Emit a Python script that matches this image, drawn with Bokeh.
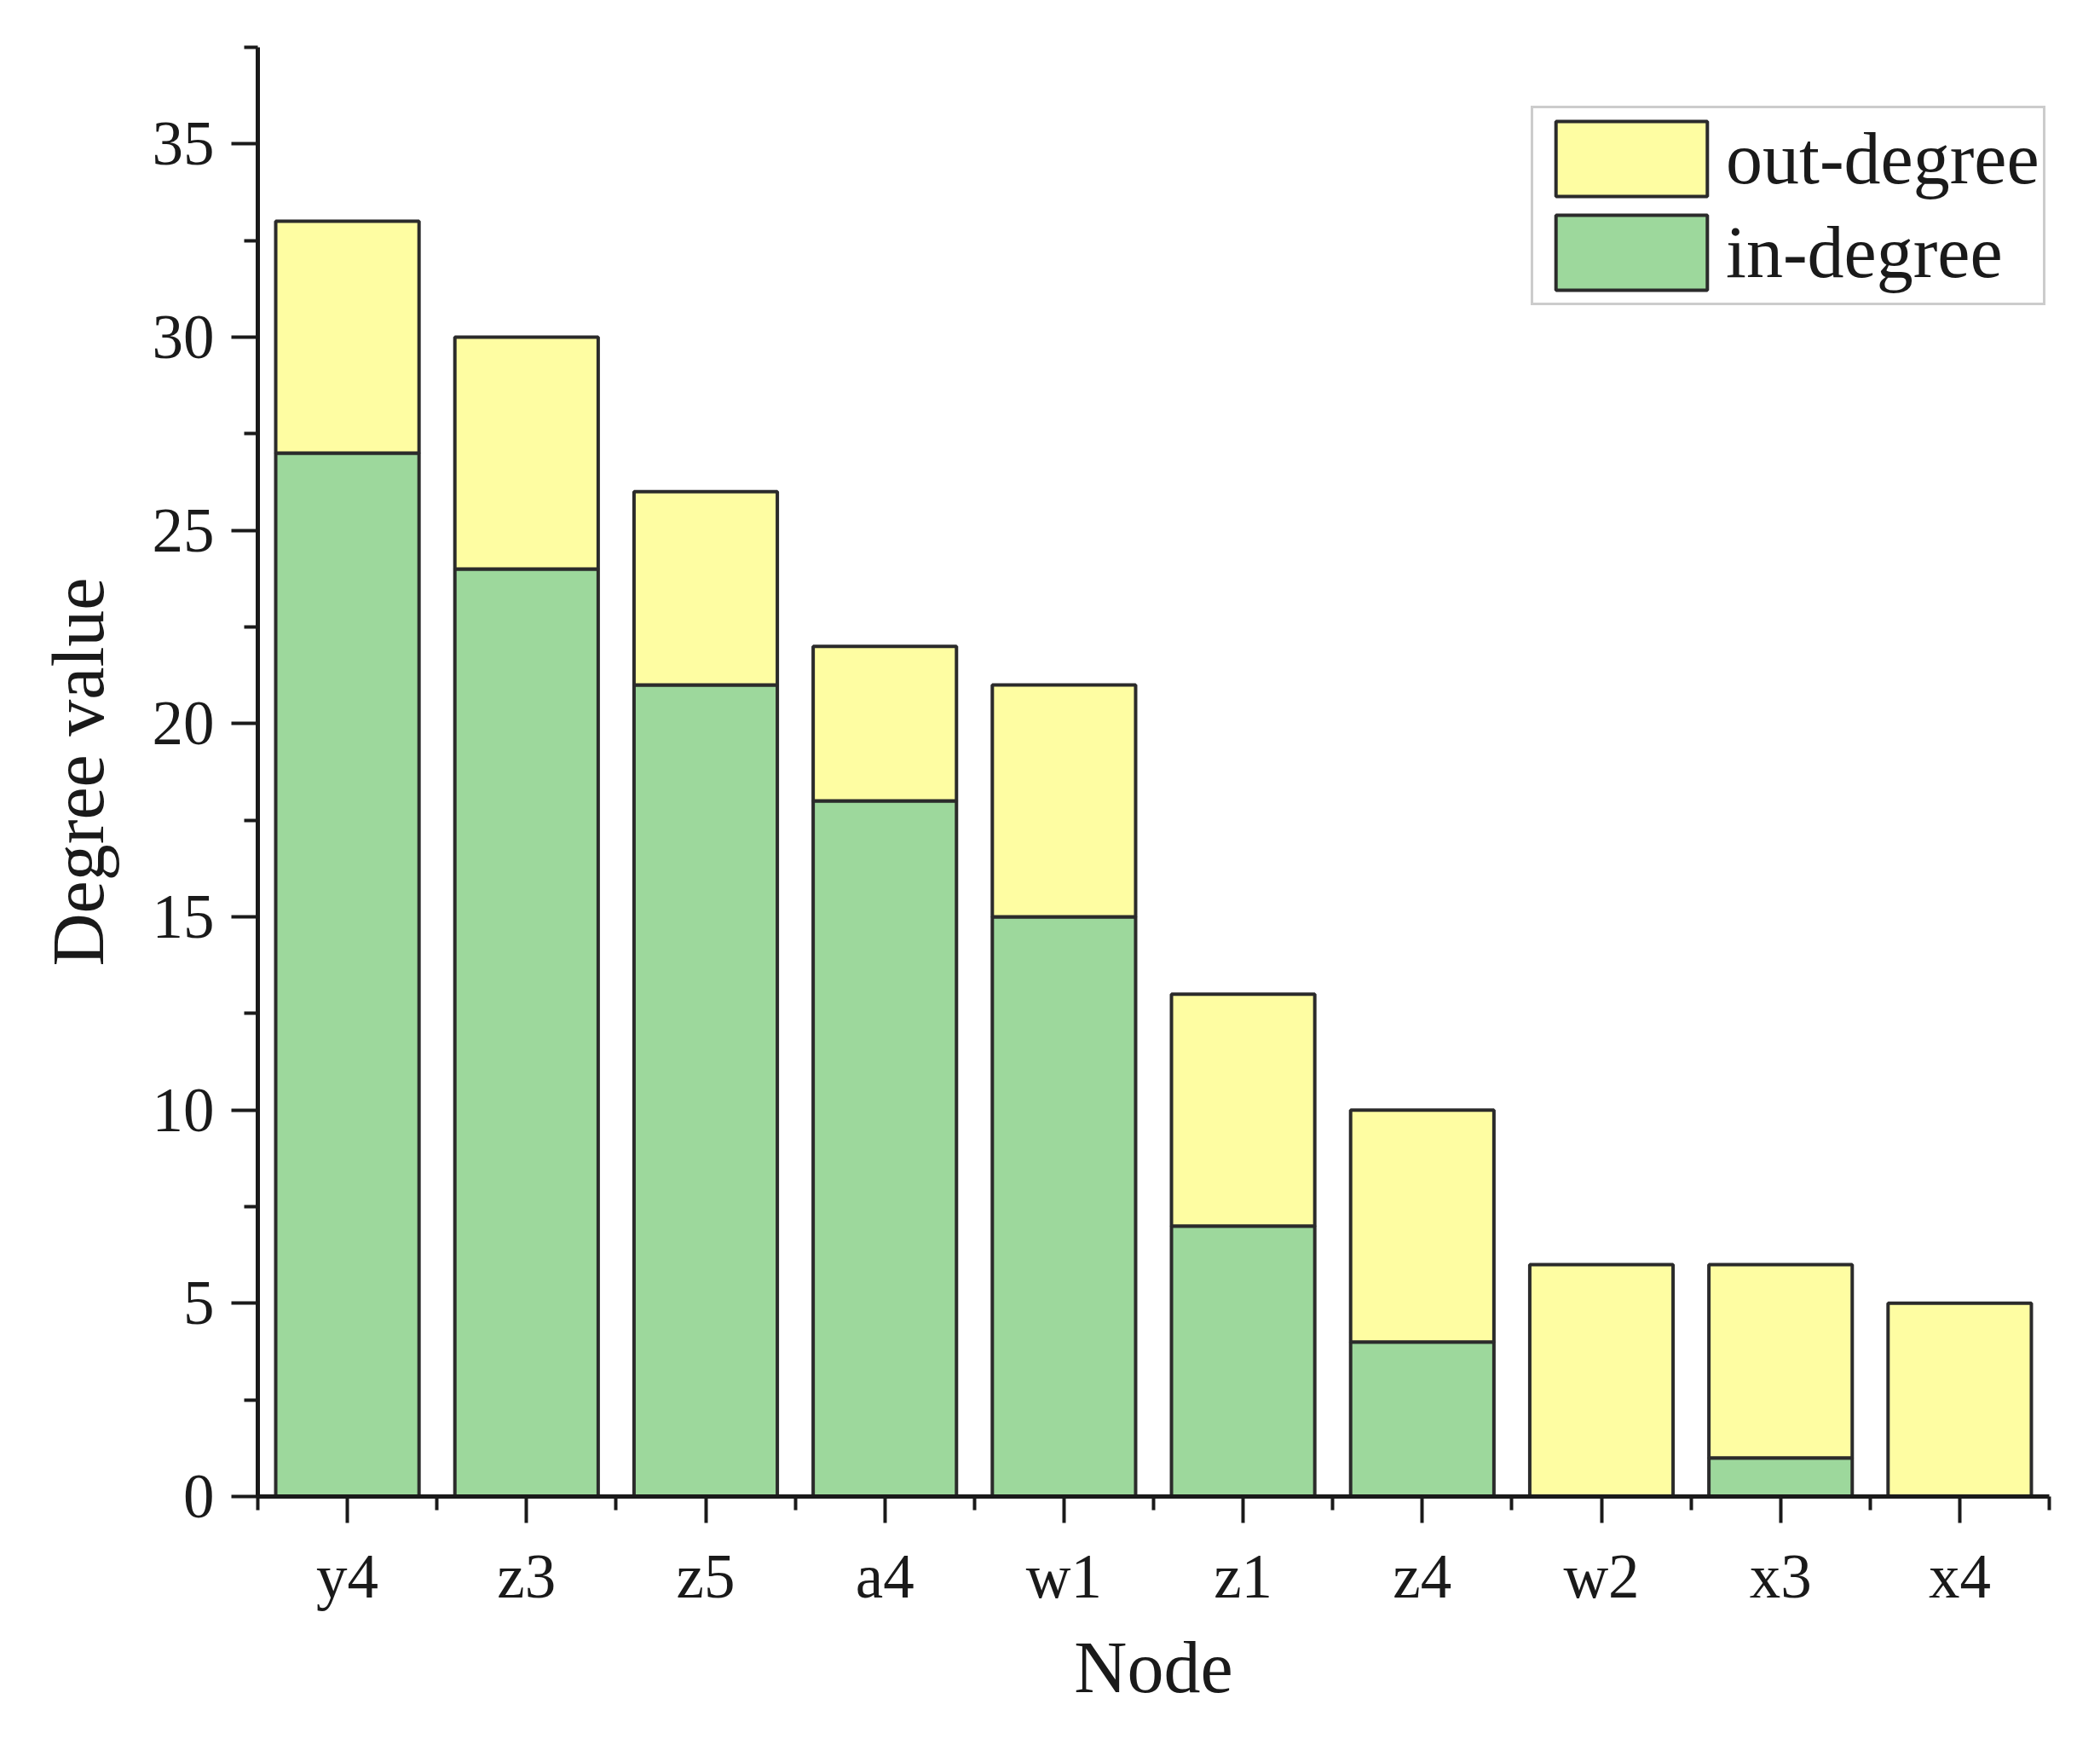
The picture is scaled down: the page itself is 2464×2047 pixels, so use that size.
from bokeh.plotting import figure
from bokeh.models import (ColumnDataSource, FixedTicker, Range1d, Legend, LegendItem)
from bokeh.embed import file_html
from bokeh.resources import INLINE

# ---- data ----
nodes = ["y4", "z3", "z5", "a4", "w1", "z1", "z4", "w2", "x3", "x4"]
in_degree = [27, 24, 21, 18, 15, 7, 4, 0, 1, 0]
out_degree = [6, 6, 5, 4, 6, 6, 6, 6, 5, 5]
y_ticks = [0, 5, 10, 15, 20, 25, 30, 35]

FONT = "Liberation Serif"
TXT = "#1a1a1a"
YELLOW = "#FEFDA2"
GREEN = "#9DD89C"
EDGE = "#2b2b2b"

xs = list(range(len(nodes)))
totals = [a + b for a, b in zip(in_degree, out_degree)]
src = ColumnDataSource(dict(x=xs, node=nodes, zero=[0] * len(nodes),
                            ind=in_degree, tot=totals))

p = figure(width=2448, height=2036, output_backend="svg", toolbar_location=None,
           x_range=Range1d(-0.5, len(nodes) - 0.5), y_range=Range1d(0, 37.5),
           min_border_left=302, min_border_right=44, min_border_top=55,
           min_border_bottom=281)
p.outline_line_color = None
p.xgrid.visible = False
p.ygrid.visible = False
p.background_fill_color = "white"
p.border_fill_color = "white"

r_in = p.vbar(x="x", width=0.8, bottom="zero", top="ind", source=src,
              fill_color=GREEN, line_color=EDGE, line_width=4)
r_out = p.vbar(x="x", width=0.8, bottom="ind", top="tot", source=src,
               fill_color=YELLOW, line_color=EDGE, line_width=4)

# axes
for ax in (p.xaxis[0], p.yaxis[0]):
    ax.axis_line_width = 5
    ax.axis_line_color = TXT
    ax.major_tick_line_width = 4
    ax.minor_tick_line_width = 4
    ax.major_tick_line_color = TXT
    ax.minor_tick_line_color = TXT
    ax.major_tick_in = 0
    ax.minor_tick_in = 0
    ax.major_tick_out = 31
    ax.minor_tick_out = 16
    ax.major_label_text_font = FONT
    ax.major_label_text_font_size = "73px"
    ax.major_label_text_color = TXT
    ax.axis_label_text_font = FONT
    ax.axis_label_text_font_size = "86px"
    ax.axis_label_text_font_style = "normal"
    ax.axis_label_text_color = TXT

p.xaxis.ticker = FixedTicker(ticks=xs, minor_ticks=[i - 0.5 for i in range(len(nodes) + 1)])
p.xaxis.major_label_overrides = {i: n for i, n in zip(xs, nodes)}
p.xaxis.major_label_standoff = 22
p.xaxis.axis_label = "Node"
p.xaxis.axis_label_standoff = 15

p.yaxis.ticker = FixedTicker(ticks=y_ticks, minor_ticks=[t + 2.5 for t in y_ticks])
p.yaxis.major_label_standoff = 20
p.yaxis.axis_label = "Degree value"
p.yaxis.axis_label_standoff = 36

legend = Legend(items=[LegendItem(label="out-degree", renderers=[r_out]),
                       LegendItem(label="in-degree", renderers=[r_in])],
                location=(1494, 1397))
legend.glyph_width = 222
legend.glyph_height = 110
legend.label_text_font = FONT
legend.label_text_font_size = "86px"
legend.label_text_color = TXT
legend.label_standoff = 0
legend.padding = 4
legend.spacing = 0
legend.margin = 0
legend.border_line_color = "#999999"
legend.border_line_width = 3
legend.background_fill_color = "white"
legend.background_fill_alpha = 1
p.add_layout(legend, "center")

open("out.html", "w").write(file_html(p, INLINE))
